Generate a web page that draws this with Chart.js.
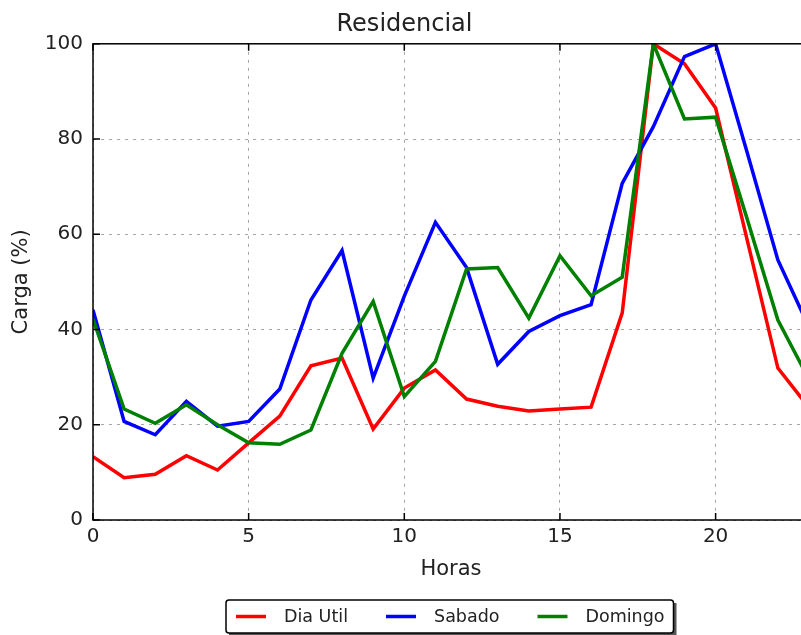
<!DOCTYPE html>
<html>
<head>
<meta charset="utf-8">
<title>Residencial</title>
<script src="https://cdn.jsdelivr.net/npm/chart.js@4/dist/chart.umd.min.js"></script>
<style>
  html, body { margin: 0; padding: 0; overflow: hidden; background: #fff; }
  #wrap { width: 896px; height: 635px; }
</style>
</head>
<body>
<div id="wrap"><canvas id="myChart" width="896" height="635"></canvas></div>
<script>
// curvas de carga por hora (% do pico)
var horas = [0, 1, 2, 3, 4, 5, 6, 7, 8, 9, 10, 11, 12, 13, 14, 15, 16, 17, 18, 19, 20, 21, 22, 23];
var diaUtil = [13.3, 8.9, 9.6, 13.5, 10.5, 16.2, 21.8, 32.4, 34.0, 19.1, 27.7, 31.5,
               25.4, 23.9, 22.9, 23.3, 23.7, 43.5, 100, 95.8, 86.5, 59.2, 31.9, 23.6];
var sabado = [44.1, 20.7, 17.9, 24.9, 19.7, 20.7, 27.5, 46.2, 56.6, 29.8, 47.0, 62.5,
              53.0, 32.7, 39.6, 42.9, 45.2, 70.7, 82.6, 97.3, 100, 77.5, 54.6, 40.5];
var domingo = [42.2, 23.3, 20.3, 24.2, 20.0, 16.2, 15.9, 18.9, 35.0, 45.9, 25.9, 33.3,
               52.7, 53.0, 42.4, 55.5, 47.1, 51.0, 100, 84.2, 84.6, 63.5, 42.0, 29.5];
var nomes = ["Dia Util", "Sabado", "Domingo"];
var cores = ["#ff0000", "#0000ff", "#008000"];
var xTicks = [0, 5, 10, 15, 20];
var yTicks = [0, 20, 40, 60, 80, 100];

Chart.defaults.font.family = "'DejaVu Sans', sans-serif";
Chart.defaults.color = "#222";

// moldura do grafico, ticks internos e legenda com caixa
var moldura = {
  id: 'moldura',
  afterDraw: function(chart) {
    var ctx = chart.ctx, a = chart.chartArea;
    var xs = chart.scales.x, ys = chart.scales.y;
    ctx.save();
    ctx.strokeStyle = '#000';
    ctx.lineWidth = 1.5;
    ctx.strokeRect(a.left, a.top, a.right - a.left, a.bottom - a.top);
    ctx.beginPath();
    xTicks.forEach(function(v) {
      var px = xs.getPixelForValue(v);
      ctx.moveTo(px, a.bottom); ctx.lineTo(px, a.bottom - 7);
      ctx.moveTo(px, a.top); ctx.lineTo(px, a.top + 7);
    });
    yTicks.forEach(function(v) {
      var py = ys.getPixelForValue(v);
      ctx.moveTo(a.left, py); ctx.lineTo(a.left + 7, py);
      ctx.moveTo(a.right, py); ctx.lineTo(a.right - 7, py);
    });
    ctx.stroke();

    // legenda
    ctx.font = "17.5px 'DejaVu Sans'";
    var ds = chart.data.datasets;
    var larg = 10 + 9;
    ds.forEach(function(d, i) {
      larg += 48 + ctx.measureText(d.label).width;
      if (i < ds.length - 1) larg += 38;
    });
    var bx = Math.round(chart.width / 2 - larg / 2) + 2, by = 600, bh = 33;
    ctx.fillStyle = '#555';
    ctx.fillRect(bx + 3, by + 3, larg, bh);
    ctx.fillStyle = '#fff';
    ctx.beginPath();
    ctx.roundRect(bx, by, larg, bh, 3);
    ctx.fill();
    ctx.lineWidth = 1.5;
    ctx.strokeStyle = '#000';
    ctx.stroke();
    var cx = bx + 10, cy = by + bh / 2;
    ctx.textBaseline = 'middle';
    ds.forEach(function(d) {
      ctx.strokeStyle = d.borderColor;
      ctx.lineWidth = 3.5;
      ctx.beginPath();
      ctx.moveTo(cx, cy); ctx.lineTo(cx + 30, cy);
      ctx.stroke();
      ctx.fillStyle = '#222';
      ctx.fillText(d.label, cx + 48, cy + 1);
      cx += 48 + ctx.measureText(d.label).width + 38;
    });
    ctx.restore();
  }
};

var series = [diaUtil, sabado, domingo];

new Chart("myChart", {
  type: "line",
  data: {
    labels: horas,
    datasets: series.map(function(s, i) {
      return {
        label: nomes[i],
        data: s,
        borderColor: cores[i],
        backgroundColor: cores[i],
        borderWidth: 3.5,
        pointRadius: 0,
        tension: 0,
        fill: false,
        order: series.length - i
      };
    })
  },
  options: {
    responsive: false,
    animation: false,
    layout: { padding: { left: 0, right: 87, top: 0, bottom: 0 } },
    plugins: {
      legend: { display: false },
      tooltip: { enabled: false },
      title: {
        display: true,
        text: "Residencial",
        color: "#222",
        font: { size: 24, weight: 'normal' },
        padding: { top: 10, bottom: 5 }
      }
    },
    scales: {
      x: {
        type: 'linear',
        min: 0,
        max: 23,
        afterBuildTicks: function(scale) {
          scale.ticks = xTicks.map(function(v) { return { value: v }; });
        },
        afterFit: function(scale) { scale.height = 115; },
        ticks: { font: { size: 20 }, padding: 5, maxRotation: 0 },
        grid: { color: 'rgba(0,0,0,0.35)', lineWidth: 1, drawTicks: false },
        border: { display: false, dash: [3, 5] },
        title: { display: true, text: "Horas", font: { size: 21 }, padding: { top: 0, bottom: 53 } }
      },
      y: {
        min: 0,
        max: 100,
        afterBuildTicks: function(scale) {
          scale.ticks = yTicks.map(function(v) { return { value: v }; });
        },
        afterFit: function(scale) { scale.width = 93; },
        ticks: { font: { size: 20 }, padding: 10 },
        grid: { color: 'rgba(0,0,0,0.35)', lineWidth: 1, drawTicks: false },
        border: { display: false, dash: [3, 5] },
        title: { display: true, text: "Carga (%)", font: { size: 21 }, padding: { top: 9, bottom: 0 } }
      }
    }
  },
  plugins: [moldura]
});
</script>
</body>
</html>
